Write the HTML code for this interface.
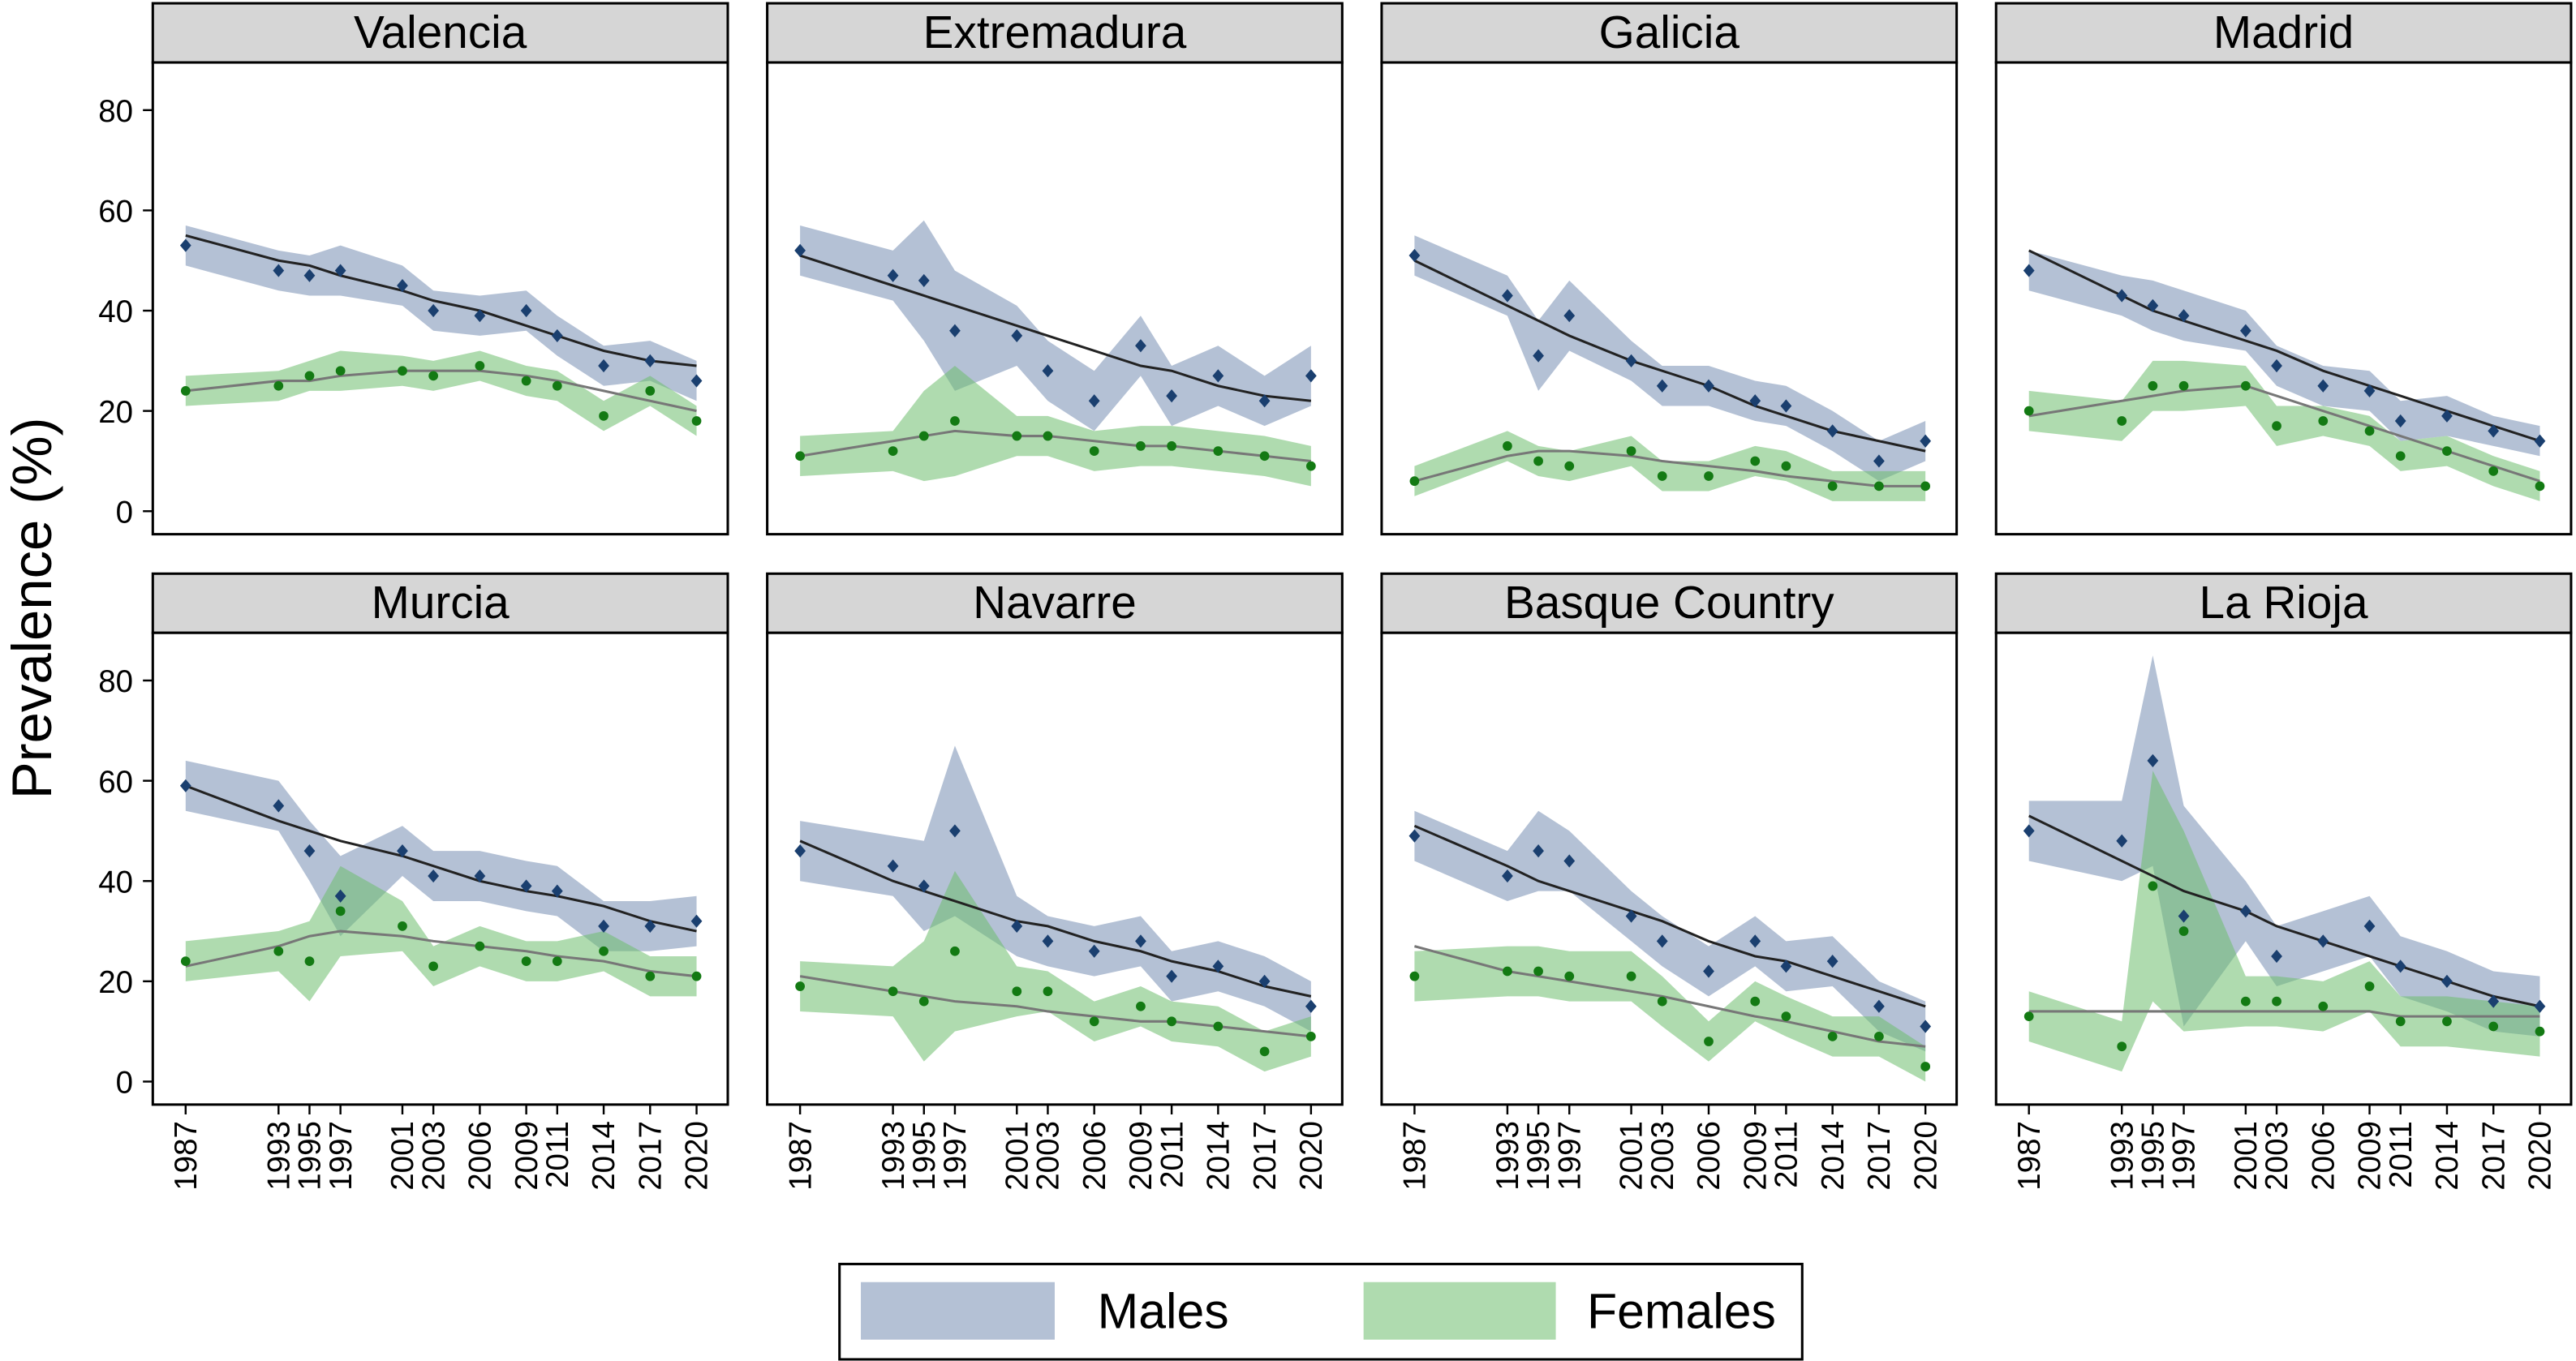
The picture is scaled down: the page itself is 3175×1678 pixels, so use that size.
<!DOCTYPE html>
<html><head><meta charset="utf-8"><style>
html,body{margin:0;padding:0;background:#fff}
svg{display:block}
text{font-family:"Liberation Sans",sans-serif}
</style></head><body>
<svg id="chart" width="3175" height="1678" viewBox="0 0 1568 828" preserveAspectRatio="none" xmlns="http://www.w3.org/2000/svg"></svg>
<script>
const years=[1987,1993,1995,1997,2001,2003,2006,2009,2011,2014,2017,2020];
const regions=["Valencia","Extremadura","Galicia","Madrid","Murcia","Navarre","Basque Country","La Rioja"];
const yTicks=[0,20,40,60,80];
const malePts=[
[53,48,47,48,45,40,39,40,35,29,30,26],
[52,47,46,36,35,28,22,33,23,27,22,27],
[51,43,31,39,30,25,25,22,21,16,10,14],
[48,43,41,39,36,29,25,24,18,19,16,14],
[59,55,46,37,46,41,41,39,38,31,31,32],
[46,43,39,50,31,28,26,28,21,23,20,15],
[49,41,46,44,33,28,22,28,23,24,15,11],
[50,48,64,33,34,25,28,31,23,20,16,15]];
const femalePts=[
[24,25,27,28,28,27,29,26,25,19,24,18],
[11,12,15,18,15,15,12,13,13,12,11,9],
[6,13,10,9,12,7,7,10,9,5,5,5],
[20,18,25,25,25,17,18,16,11,12,8,5],
[24,26,24,34,31,23,27,24,24,26,21,21],
[19,18,16,26,18,18,12,15,12,11,6,9],
[21,22,22,21,21,16,8,16,13,9,9,3],
[13,7,39,30,16,16,15,19,12,12,11,10]];
const maleFit=[
[55,50,49,47,44,42,40,37,35,32,30,29],
[51,45,43,41,37,35,32,29,28,25,23,22],
[50,41,38,35,30,28,25,21,19,16,14,12],
[52,43,40,38,34,32,28,25,23,20,17,14],
[59,52,50,48,45,43,40,38,37,35,32,30],
[48,40,38,36,32,31,28,26,24,22,19,17],
[51,43,40,38,34,32,28,25,24,21,18,15],
[53,44,41,38,34,31,28,25,23,20,17,15]];
const femaleFit=[
[24,26,26,27,28,28,28,27,26,24,22,20],
[11,14,15,16,15,15,14,13,13,12,11,10],
[6,11,12,12,11,10,9,8,7,6,5,5],
[19,22,23,24,25,23,20,17,15,12,9,6],
[23,27,29,30,29,28,27,26,25,24,22,21],
[21,18,17,16,15,14,13,12,12,11,10,9],
[27,22,21,20,18,17,15,13,12,10,8,7],
[14,14,14,14,14,14,14,14,13,13,13,13]];
const maleHW=[
[4,4,4,5,4,4,4,4,4,4,4,4],
[5,5,12,12,6,6,6,6,6,6,5,6],
[4,4,7,7,4,4,4,4,4,4,4,4],
[4,4,5,5,4,4,4,4,4,4,3,3],
[5,5,6,8,5,5,5,5,5,5,5,5],
[6,6,9,17,6,5,5,5,5,5,5,5],
[5,5,8,6,5,5,5,5,5,5,5,5],
[6,8,21,22,6,6,6,6,6,6,6,6]];
const femaleHW=[
[3,3,3,4,3,3,3,3,3,3,3,3],
[4,4,9,11,4,4,4,4,4,4,4,4],
[3,3,3,3,3,3,3,3,3,3,3,3],
[4,4,5,5,4,4,3,3,3,3,3,3],
[4,4,8,9,5,4,4,4,4,4,4,4],
[5,5,12,16,5,4,4,4,4,4,4,4],
[5,5,5,5,5,5,4,4,4,4,4,4],
[5,5,23,20,5,5,5,5,5,5,5,5]];

const NS="http://www.w3.org/2000/svg";
const svg=document.getElementById('chart');
function mk(tag,attrs,parent){const e=document.createElementNS(NS,tag);for(const k in attrs)e.setAttribute(k,attrs[k]);(parent||svg).appendChild(e);return e;}
const colX=[93,467,841,1215], W=350;
const rowTop=[2,349], stripH=36, plotH=287;
for(let i=0;i<8;i++){
  const c=i%4,r=Math.floor(i/4);
  const x0=colX[c], top=rowTop[r], pTop=top+stripH, pBot=pTop+plotH;
  const g=mk('g',{});
  
  
  const xS=y=>x0+20+(y-1987)/33*(W-39);
  const y80=pTop+29, y0=pTop+273;
  const yS=v=>y0-v/80*(y0-y80);
  const st=mk('rect',{x:x0,y:top,width:W,height:stripH,fill:'#d6d6d6',stroke:'#000','stroke-width':1.5},g);
  
  
  const tt=mk('text',{x:x0+W/2,y:top+27,'text-anchor':'middle','font-size':28,fill:'#000'},g);
  tt.textContent=regions[i];
  
  
  mk('rect',{x:x0,y:pTop,width:W,height:plotH,fill:'#fff',stroke:'#000','stroke-width':1.5},g);
  const series=[[maleHW[i],malePts[i],maleFit[i],'rgba(140,160,190,0.65)','#1a3f6f','#222','male'],
                [femaleHW[i],femalePts[i],femaleFit[i],'rgba(110,190,110,0.55)','#137a13','#777','female']];
  for(const [hw,pts,fit,band,pc,lc,nm] of series){
    let d='';
    years.forEach((yr,k)=>{d+=(k?'L':'M')+xS(yr)+','+yS(pts[k]+hw[k]);});
    for(let k=years.length-1;k>=0;k--)d+='L'+xS(years[k])+','+yS(Math.max(0,pts[k]-hw[k]));
    const b=mk('path',{d:d+'Z',fill:band},g);
    
    
  }
  for(const [hw,pts,fit,band,pc,lc,nm] of series){
    const l=mk('polyline',{points:years.map((yr,k)=>xS(yr)+','+yS(fit[k])).join(' '),fill:'none',stroke:lc,'stroke-width':1.5},g);
    
    
    years.forEach((yr,k)=>{
      const px=xS(yr),py=yS(pts[k]);
      let m;
      if(nm==='male') m=mk('path',{d:`M${px},${py-4}L${px+3.4},${py}L${px},${py+4}L${px-3.4},${py}Z`,fill:pc},g);
      else m=mk('circle',{cx:px,cy:py,r:2.9,fill:pc},g);
      
      
    });
  }
  if(c===0){
    yTicks.forEach(v=>{
      mk('line',{x1:x0-6,x2:x0,y1:yS(v),y2:yS(v),stroke:'#000','stroke-width':1.2},g);
      const t=mk('text',{x:x0-12,y:yS(v)+7,'text-anchor':'end','font-size':19},g);
      t.textContent=v;
      
      
    });
  }
  if(r===1){
    years.forEach(yr=>{
      const px=xS(yr);
      mk('line',{x1:px,x2:px,y1:pBot,y2:pBot+6,stroke:'#000','stroke-width':1.2},g);
      const t=mk('text',{x:0,y:0,'text-anchor':'end','font-size':19,transform:`translate(${px+6.5},${pBot+10}) rotate(-90)`},g);
      t.textContent=yr;
      
      
    });
  }
}
const yt=mk('text',{x:0,y:0,'text-anchor':'middle','font-size':34,transform:'translate(31,370) rotate(-90)'});
yt.textContent='Prevalence (%)';


const lg=mk('g',{});


mk('rect',{x:511,y:769,width:586,height:58,fill:'#fff',stroke:'#000','stroke-width':1.5},lg);
mk('rect',{x:524,y:780,width:118,height:35,fill:'rgba(140,160,190,0.65)'},lg);
const lm=mk('text',{x:668,y:808,'font-size':30},lg);lm.textContent='Males';


mk('rect',{x:830,y:780,width:117,height:35,fill:'rgba(110,190,110,0.55)'},lg);
const lf=mk('text',{x:966,y:808,'font-size':30},lg);lf.textContent='Females';


</script>
</body></html>
